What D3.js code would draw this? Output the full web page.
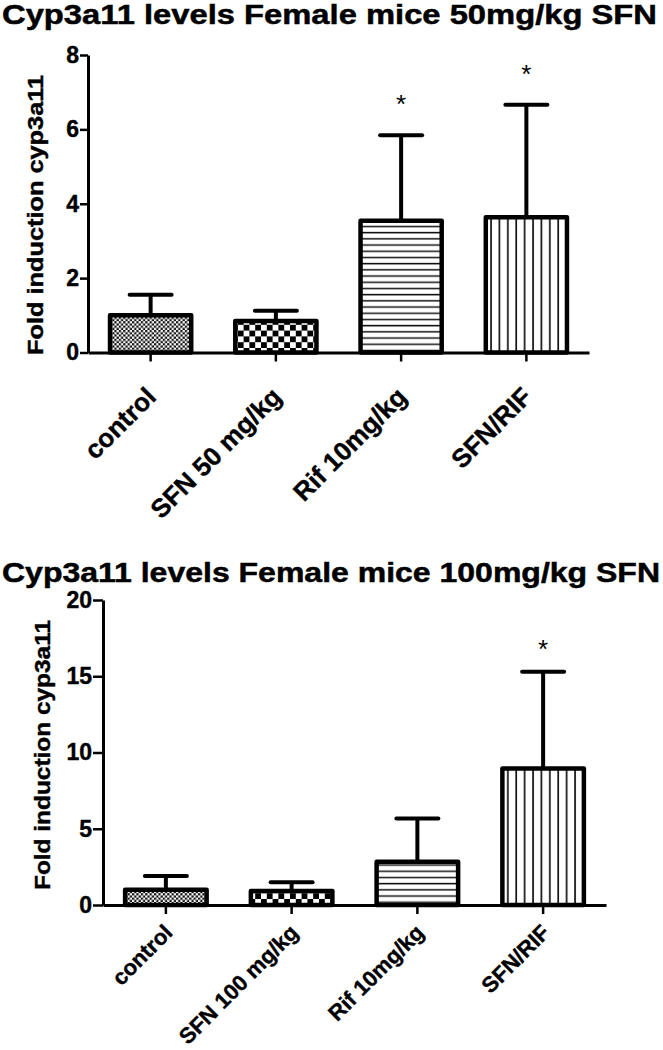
<!DOCTYPE html>
<html>
<head>
<meta charset="utf-8">
<script src="https://cdn.jsdelivr.net/npm/d3@7"></script>
<style>
  html, body { margin: 0; padding: 0; background: #fff; }
  svg { display: block; }
  text { font-family: "Liberation Sans", Arial, sans-serif; }
</style>
</head>
<body>
<script>
// ---------- data ----------
const title1 = "Cyp3a11 levels Female mice 50mg/kg SFN";
const cats1 = ["control", "SFN 50 mg/kg", "Rif 10mg/kg", "SFN/RIF"];
const means1 = [1.0, 0.85, 3.54, 3.64];
const sd1 = [0.55, 0.27, 2.30, 3.02];
const sig1 = [false, false, true, true];
const ticks1 = [0, 2, 4, 6, 8];

const title2 = "Cyp3a11 levels Female mice 100mg/kg SFN";
const cats2 = ["control", "SFN 100 mg/kg", "Rif 10mg/kg", "SFN/RIF"];
const means2 = [1.0, 0.92, 2.83, 8.95];
const sd2 = [0.9, 0.58, 2.85, 6.35];
const sig2 = [false, false, false, true];
const ticks2 = [0, 5, 10, 15, 20];

const yLabel = "Fold induction cyp3a11";
const patternIds = ["fineCheck", "coarseCheck", "hLines", "vLines"];

// ---------- svg ----------
const W = 663, H = 1050;
const svg = d3.select("body").append("svg").attr("width", W).attr("height", H);
const defs = svg.append("defs");

// fine checker
{
  const p = defs.append("pattern").attr("id", "fineCheck").attr("patternUnits", "userSpaceOnUse")
    .attr("width", 4.4).attr("height", 4.4);
  p.append("rect").attr("width", 4.4).attr("height", 4.4).attr("fill", "#fff");
  p.append("rect").attr("width", 2.2).attr("height", 2.2).attr("fill", "#111");
  p.append("rect").attr("x", 2.2).attr("y", 2.2).attr("width", 2.2).attr("height", 2.2).attr("fill", "#111");
}
// coarse checker
{
  const s = 5.8;
  const p = defs.append("pattern").attr("id", "coarseCheck").attr("patternUnits", "userSpaceOnUse")
    .attr("width", 2 * s).attr("height", 2 * s);
  p.append("rect").attr("width", 2 * s).attr("height", 2 * s).attr("fill", "#fff");
  p.append("rect").attr("width", s).attr("height", s).attr("fill", "#000");
  p.append("rect").attr("x", s).attr("y", s).attr("width", s).attr("height", s).attr("fill", "#000");
}
// horizontal lines
{
  const p = defs.append("pattern").attr("id", "hLines").attr("patternUnits", "userSpaceOnUse")
    .attr("width", 10).attr("height", 6.2);
  p.append("rect").attr("width", 10).attr("height", 6.2).attr("fill", "#fff");
  p.append("rect").attr("y", 2.5).attr("width", 10).attr("height", 1.5).attr("fill", "#111");
}
// vertical lines
{
  const p = defs.append("pattern").attr("id", "vLines").attr("patternUnits", "userSpaceOnUse")
    .attr("width", 8.4).attr("height", 10);
  p.append("rect").attr("width", 8.4).attr("height", 10).attr("fill", "#fff");
  p.append("rect").attr("x", 3).attr("width", 1.7).attr("height", 10).attr("fill", "#111");
}

function drawChart(cfg) {
  const g = svg.append("g");
  const x = d3.scaleBand().domain(cfg.cats).range([cfg.x0, cfg.x1])
    .paddingInner(0.32).paddingOuter(0.16);
  const y = d3.scaleLinear().domain([cfg.ticks[0], cfg.ticks[cfg.ticks.length - 1]])
    .range([cfg.yBottom, cfg.yTop]);

  // title
  g.append("text").attr("x", 2).attr("y", cfg.titleY)
    .attr("font-size", 28).attr("font-weight", "bold")
    .attr("stroke", "#000").attr("stroke-width", 0.5)
    .attr("textLength", cfg.titleLen).attr("lengthAdjust", "spacingAndGlyphs")
    .text(cfg.title);

  // y label
  g.append("text")
    .attr("transform", `translate(${cfg.yLabX},${cfg.yLabY}) rotate(-90)`)
    .attr("text-anchor", "middle").attr("font-size", 22).attr("font-weight", "bold")
    .attr("stroke", "#000").attr("stroke-width", 0.4)
    .attr("textLength", cfg.yLabLen).attr("lengthAdjust", "spacingAndGlyphs")
    .text(yLabel);

  const data = cfg.cats.map((c, i) => ({ c, m: cfg.means[i], s: cfg.sd[i], sig: cfg.sig[i], p: patternIds[i] }));

  // error bars
  const eb = g.append("g").attr("stroke", "#000").attr("stroke-width", 4).attr("stroke-linecap", "round");
  data.forEach(d => {
    const cx = x(d.c) + x.bandwidth() / 2;
    eb.append("line").attr("x1", cx).attr("x2", cx).attr("y1", y(d.m)).attr("y2", y(d.m + d.s)).attr("stroke-linecap", "butt");
    eb.append("line").attr("x1", cx - 21).attr("x2", cx + 21).attr("y1", y(d.m + d.s)).attr("y2", y(d.m + d.s));
  });

  // bars
  g.append("g").selectAll("rect").data(data).join("rect")
    .attr("x", d => x(d.c) + 2)
    .attr("width", x.bandwidth() - 4)
    .attr("y", d => y(d.m))
    .attr("height", d => y(0) - y(d.m))
    .attr("fill", d => `url(#${d.p})`)
    .attr("stroke", "#000").attr("stroke-width", 4.5).attr("stroke-linejoin", "round");

  // asterisks
  g.append("g").selectAll("text").data(data.filter(d => d.sig)).join("text")
    .attr("x", d => x(d.c) + x.bandwidth() / 2)
    .attr("y", d => y(d.m + d.s) - cfg.starOff + 13)
    .attr("text-anchor", "middle").attr("font-size", 26)
    .text("*");

  // axes
  const ya = g.append("g").attr("transform", `translate(${cfg.x0},0)`)
    .call(d3.axisLeft(y).tickValues(cfg.ticks).tickSize(cfg.yTick).tickSizeOuter(0).tickPadding(1).tickFormat(d3.format("d")));
  ya.select(".domain").attr("stroke-width", 3);
  ya.selectAll(".tick line").attr("stroke-width", 2.5);
  ya.selectAll(".tick text").attr("font-size", 23).attr("font-weight", "bold")
    .attr("font-family", "Liberation Sans, Arial, sans-serif").attr("fill", "#000")
    .attr("stroke", "#000").attr("stroke-width", 0.4);

  const xa = g.append("g").attr("transform", `translate(0,${cfg.yBottom})`)
    .call(d3.axisBottom(x).tickSize(9).tickSizeOuter(0).tickFormat(""));
  xa.select(".domain").attr("stroke-width", 3);
  xa.selectAll(".tick line").attr("stroke-width", 2.5);

  // x labels
  g.append("g").selectAll("text").data(data).join("text")
    .attr("transform", d => `translate(${x(d.c) + x.bandwidth() / 2 + cfg.labDx},${cfg.yBottom + cfg.labDy}) rotate(-45)`)
    .attr("text-anchor", "end").attr("font-size", cfg.labSize).attr("font-weight", "bold")
    .attr("stroke", "#000").attr("stroke-width", 0.4)
    .text(d => d.c);
}

drawChart({
  title: title1, titleY: 24, titleLen: 655,
  cats: cats1, means: means1, sd: sd1, sig: sig1, ticks: ticks1,
  x0: 88, x1: 589, yBottom: 352.5, yTop: 55, yTick: 8,
  yLabX: 43, yLabY: 215, yLabLen: 280,
  starOff: 35, labDx: 7, labDy: 46, labSize: 26
});

drawChart({
  title: title2, titleY: 582, titleLen: 658,
  cats: cats2, means: means2, sd: sd2, sig: sig2, ticks: ticks2,
  x0: 103, x1: 606, yBottom: 905, yTop: 600, yTick: 10,
  yLabX: 50, yLabY: 755, yLabLen: 270,
  starOff: 27, labDx: 8, labDy: 29, labSize: 22
});
</script>
</body>
</html>
